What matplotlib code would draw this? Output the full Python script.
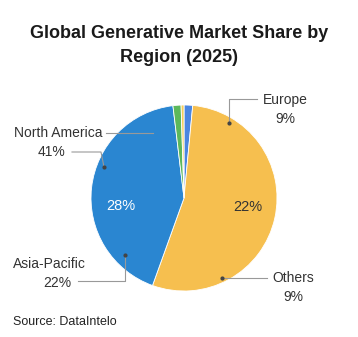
import matplotlib.pyplot as plt

plt.rcParams['font.family'] = ['Liberation Sans', 'DejaVu Sans']

# slices clockwise from 12 o'clock
slice_values = [1.5, 54.0, 42.6, 1.4, 0.5]
slice_colors = ['#4a86e0', '#f6bf4f', '#2a86d1', '#5cb85c', '#f5cd5a']

# printed labels (as shown in the source picture)
region_names = ['Europe', 'North America', 'Asia-Pacific', 'Others']
region_pcts = ['9%', '41%', '22%', '9%']
inner_labels = ['28%', '22%']

W, H = 358, 337
fig = plt.figure(figsize=(W / 100, H / 100), dpi=100)
ax = fig.add_axes([0, 0, 1, 1])

def py(y):
    return H - y

ax.pie(slice_values, colors=slice_colors, startangle=90, counterclock=False,
       center=(184, py(198)), radius=93,
       wedgeprops=dict(edgecolor='white', linewidth=0.6), frame=True)
ax.set_xlim(0, W)
ax.set_ylim(0, H)
ax.set_aspect('equal')
ax.axis('off')

fig.text(0.5, py(33) / H, 'Global Generative Market Share by', ha='center', va='center',
         fontsize=13, fontweight='bold', color='#1a1a1a')
fig.text(0.5, py(57) / H, 'Region (2025)', ha='center', va='center',
         fontsize=13, fontweight='bold', color='#1a1a1a')

lc = '#999999'
dot = '#444444'
lab = dict(fontsize=10, color='#333333', ha='center', va='center')

# Europe
ax.plot([229, 229, 257], [py(123), py(99), py(99)], color=lc, lw=0.8)
ax.plot(229, py(123), 'o', ms=2, color=dot)
ax.text(285, py(100), region_names[0], **lab)
ax.text(285, py(119), region_pcts[0], **lab)

# North America
ax.plot([106, 153], [py(133), py(133)], color=lc, lw=0.8)
ax.plot([72, 101, 104], [py(152), py(152), py(167)], color=lc, lw=0.8)
ax.plot(104, py(167), 'o', ms=2, color=dot)
ax.text(58, py(133), region_names[1], **lab)
ax.text(51, py(152), region_pcts[1], **lab)

# Asia-Pacific
ax.plot([78, 125, 125], [py(281), py(281), py(255)], color=lc, lw=0.8)
ax.plot(125, py(255), 'o', ms=2, color=dot)
ax.text(49, py(264), region_names[2], **lab)
ax.text(57, py(283), region_pcts[2], **lab)

# Others
ax.plot([222, 267], [py(278), py(278)], color=lc, lw=0.8)
ax.plot(222, py(278), 'o', ms=2, color=dot)
ax.text(293, py(278), region_names[3], **lab)
ax.text(293, py(297), region_pcts[3], **lab)

ax.text(121, py(206), inner_labels[0], fontsize=10.5, color='white', ha='center', va='center')
ax.text(248, py(207), inner_labels[1], fontsize=10.5, color='#333333', ha='center', va='center')

fig.text(13 / W, py(322) / H, 'Source: DataIntelo', fontsize=9, color='#222222',
         ha='left', va='center')

fig.savefig('out.png', dpi=100, facecolor='white')
